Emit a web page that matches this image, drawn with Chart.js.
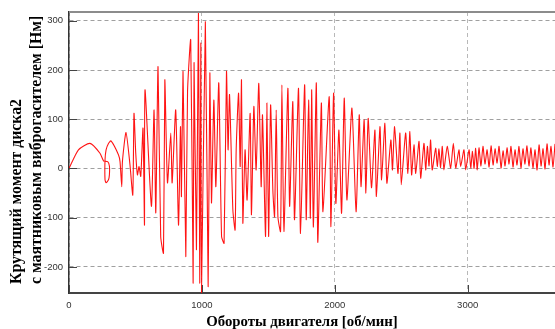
<!DOCTYPE html>
<html>
<head>
<meta charset="utf-8">
<script src="https://cdn.jsdelivr.net/npm/chart.js@4"></script>
<style>
  body { margin: 0; background: #fff; }
  #wrap { width: 555px; height: 329px; }
</style>
</head>
<body>
<div id="wrap"><canvas id="chart" width="555" height="329"></canvas></div>
<script>
// engine speed [rpm] and torque [Nm] (peaks and troughs)
const rpm = [
  0, 71, 158, 233, 261, 291, 304, 304, 297, 279, 271, 271, 279, 297, 316, 372, 384, 397, 402, 429,
  459, 480, 489, 502, 515, 527, 540, 557, 568, 572, 620, 640, 653, 670, 690, 711, 721, 741, 766, 776,
  803, 824, 839, 846, 858, 879, 892, 916, 934, 941, 959, 974, 984, 992, 997, 1026, 1047, 1060, 1072, 1090,
  1105, 1127, 1148, 1167, 1185, 1197, 1208, 1233, 1250, 1258, 1276, 1288, 1298, 1308, 1325, 1340, 1363, 1373, 1391, 1408,
  1428, 1446, 1456, 1479, 1489, 1502, 1517, 1534, 1547, 1559, 1572, 1592, 1602, 1617, 1647, 1660, 1684, 1697, 1727, 1742,
  1773, 1785, 1803, 1816, 1826, 1839, 1861, 1872, 1899, 1911, 1958, 1971, 1991, 2008, 2031, 2051, 2071, 2091, 2129, 2160,
  2184, 2197, 2221, 2234, 2251, 2276, 2302, 2313, 2340, 2352, 2377, 2392, 2422, 2434, 2450, 2475, 2490, 2500, 2533, 2550,
  2565, 2578, 2596, 2609, 2634, 2646, 2671, 2684, 2697, 2709, 2721, 2733, 2759, 2771, 2784, 2796, 2809, 2821, 2846, 2872,
  2892, 2910, 2934, 2947, 2972, 2985, 3010, 3023, 3036, 3048, 3060, 3072, 3085, 3100, 3115, 3130, 3146, 3161, 3176, 3191,
  3206, 3221, 3236, 3251, 3266, 3281, 3296, 3311, 3326, 3341, 3356, 3371, 3386, 3401, 3416, 3431, 3446, 3461, 3476, 3491,
  3507, 3522, 3537, 3552, 3567, 3582, 3597, 3612, 3627, 3642, 3657
];
const torque = [
  0, 38, 51, 31, 15, 14, 5, -13, -23, -29, -23, 17, 38, 51, 56, 28, 14, -37, 14, 73,
  7, -54, 112, 32, -13, 4, -16, 82, -115, 160, -77, 119, -90, 207, -138, -172, 180, -29, 72, -29,
  119, -115, 85, -57, 197, -179, 156, 261, -233, 215, -165, 316, -233, 255, -253, 298, -240, 194, -70, 139,
  -37, 174, -138, -152, 197, 38, 150, -84, -125, 38, 153, 4, 180, -111, 38, -64, 112, -94, 126, -3,
  173, -37, 109, -138, 133, -138, 129, -44, -98, 119, -98, -128, 170, -128, 163, -77, 136, -104, 163, -132,
  170, -104, 139, -101, 160, -119, 174, -150, 133, -88, 146, -118, 153, -71, 78, -91, 143, -64, 123, -88,
  109, -37, 99, -50, 102, -39, 78, -57, 85, -23, 92, -30, 58, -3, 85, -10, 72, -33, 72, -10,
  75, -13, 48, -10, 55, -20, 51, -3, 45, 5, 58, -3, 41, 4, 40, 2, 45, -3, 45, 1,
  51, 1, 38, 4, 38, -3, 38, 1, 35, 0, 41, -3, 42, 5, 45, 9, 38, 3, 46, 7,
  40, 11, 45, 1, 36, 5, 42, 9, 45, 3, 38, 7, 45, 1, 40, 9, 46, 5, 42, 1,
  38, -3, 48, 5, 40, -1, 50, 7, 45, 3, 50
];
const xTicks = [0, 1000, 2000, 3000];
const yTicks = [-200, -100, 0, 100, 200, 300];

const xTitle = 'Обороты двигателя [об/мин]';
const yTitle = ['Крутящий момент диска2', 'с маятниковым виброгасителем [Нм]'];

Chart.defaults.font.family = '"Liberation Sans", Arial, sans-serif';
Chart.defaults.font.size = 9.5;
Chart.defaults.color = '#333';

// top border, inner tick marks and the axis titles
const frame = {
  id: 'frame',
  afterDraw(chart) {
    const { ctx, chartArea: a, scales: { x, y } } = chart;
    ctx.save();
    ctx.strokeStyle = '#444';
    ctx.lineWidth = 1;
    y.ticks.forEach(t => {
      const p = Math.round(y.getPixelForValue(t.value)) + 0.5;
      ctx.beginPath();
      ctx.moveTo(a.left, p);
      ctx.lineTo(a.left + 8, p);
      ctx.stroke();
    });
    x.ticks.forEach(t => {
      const p = Math.round(x.getPixelForValue(t.value)) + 0.5;
      ctx.beginPath();
      ctx.moveTo(p, a.bottom);
      ctx.lineTo(p, a.bottom - 8);
      ctx.stroke();
    });
    ctx.strokeStyle = '#8c8c8c';
    ctx.lineWidth = 2;
    ctx.beginPath();
    ctx.moveTo(a.left, a.top);
    ctx.lineTo(a.right, a.top);
    ctx.stroke();

    ctx.fillStyle = '#000';
    ctx.font = 'bold 14.8px "Liberation Serif", "Times New Roman", serif';
    ctx.textAlign = 'center';
    ctx.textBaseline = 'middle';
    ctx.fillText(xTitle, 302, 322);
    ctx.font = 'bold 15.8px "Liberation Serif", "Times New Roman", serif';
    ctx.translate(0, 284);
    ctx.rotate(-Math.PI / 2);
    ctx.textAlign = 'left';
    ctx.fillText(yTitle[0], 0, 17);
    ctx.fillText(yTitle[1], 0, 37);
    ctx.restore();
  }
};

new Chart(document.getElementById('chart'), {
  type: 'line',
  data: {
    datasets: [{
      data: rpm.map((v, i) => ({ x: v, y: torque[i] })),
      borderColor: 'rgba(255, 0, 0, 0.92)',
      borderWidth: 1.1,
      pointRadius: 0,
      tension: 0.2,
      fill: false
    }]
  },
  options: {
    responsive: false,
    animation: false,
    layout: { padding: { top: 12, right: 0, left: 0, bottom: 0 } },
    plugins: { legend: { display: false }, tooltip: { enabled: false } },
    scales: {
      x: {
        type: 'linear',
        min: 0,
        max: 3657,
        afterBuildTicks: s => { s.ticks = xTicks.map(v => ({ value: v })); },
        afterFit: s => { s.height = 36; },
        ticks: { padding: 7, maxRotation: 0, callback: v => String(v) },
        grid: { color: '#b8b8b8', drawTicks: false },
        border: { color: '#444', width: 2, dash: [4, 3] }
      },
      y: {
        min: -253,
        max: 318,
        afterBuildTicks: s => { s.ticks = yTicks.map(v => ({ value: v })); },
        afterFit: s => { s.width = 69; },
        ticks: { padding: 6, callback: v => String(v) },
        grid: { color: '#a0a0a0', drawTicks: false },
        border: { color: '#333', width: 1.5, dash: [4, 3] }
      }
    }
  },
  plugins: [frame]
});
</script>
</body>
</html>
